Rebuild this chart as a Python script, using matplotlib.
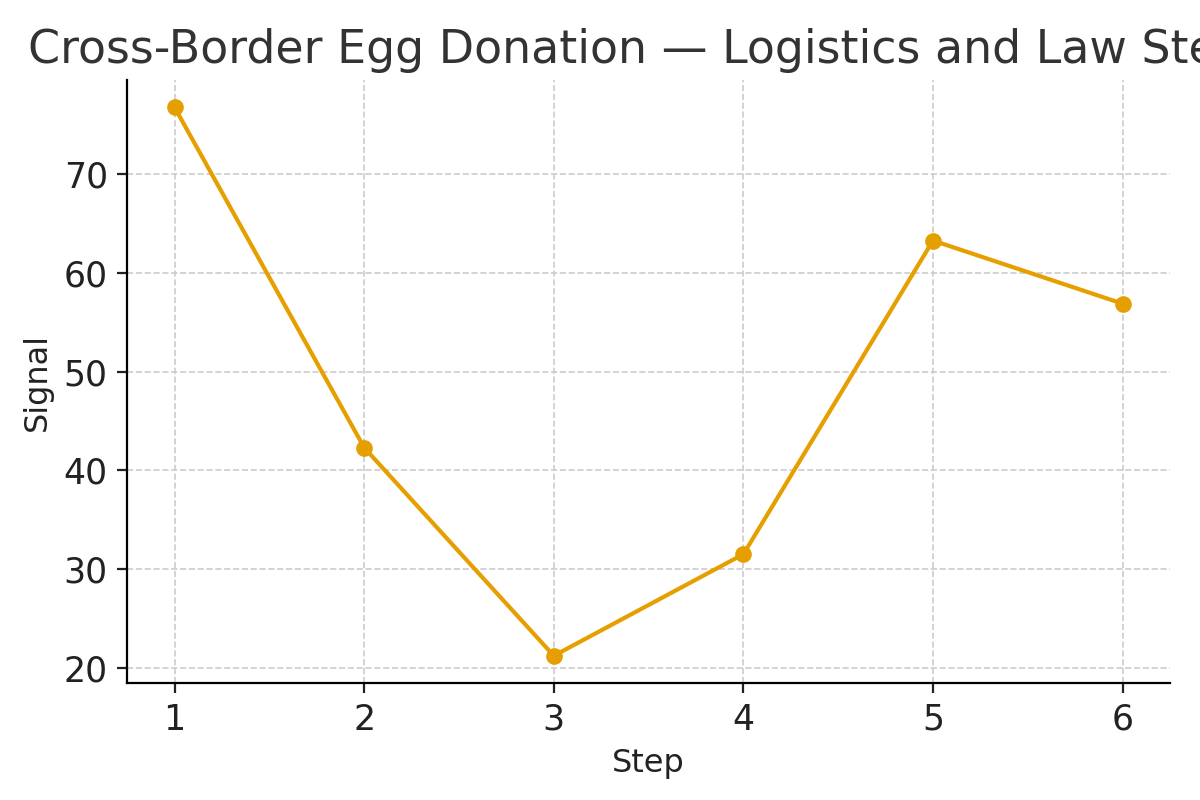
import matplotlib
matplotlib.use("Agg")
import matplotlib.pyplot as plt

steps = [1, 2, 3, 4, 5, 6]
signal = [76.8, 42.3, 21.2, 31.5, 63.3, 56.9]

fig, ax = plt.subplots(figsize=(6, 4), dpi=200)
fig.subplots_adjust(left=0.106, right=0.975, top=0.9, bottom=0.146)

ax.plot(steps, signal, color="#E69F00", linewidth=1.5, marker="o", markersize=5)

ax.set_title("Cross-Border Egg Donation — Logistics and Law Steps", fontsize=16.5, color="#333333")
ax.set_xlabel("Step", fontsize=11.5, color="#222222")
ax.set_ylabel("Signal", fontsize=11.5, color="#222222")
ax.tick_params(labelsize=12.5, colors="#222222")
ax.set_xticks(steps)
ax.set_yticks([20, 30, 40, 50, 60, 70])
ax.grid(True, linestyle="--", linewidth=0.6, color="#cccccc")
ax.spines["top"].set_visible(False)
ax.spines["right"].set_visible(False)

fig.savefig("out.png")
